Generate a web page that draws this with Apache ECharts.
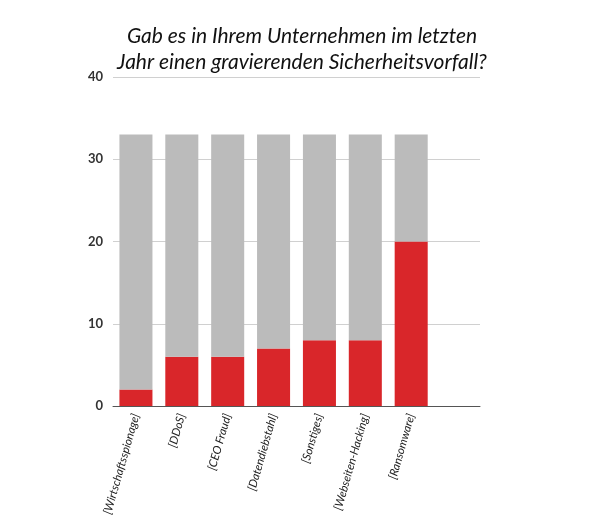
<!DOCTYPE html>
<html><head><meta charset="utf-8">
<script src="https://cdn.jsdelivr.net/npm/echarts@6/dist/echarts.min.js"></script>
<style>html,body{margin:0;padding:0;background:#fff}#c{width:600px;height:519px}</style>
</head><body><div id="c"></div>
<script>
const categories = ['[Wirtschaftsspionage]','[DDoS]','[CEO Fraud]','[Datendiebstahl]','[Sonstiges]','[Webseiten-Hacking]','[Ransomware]',''];
const redValues = [2, 6, 6, 7, 8, 8, 20, null];
const grayValues = [31, 27, 27, 26, 25, 25, 13, null];
const yTicks = [0, 10, 20, 30, 40];
const titleText = 'Gab es in Ihrem Unternehmen im letzten\nJahr einen gravierenden Sicherheitsvorfall?';

const chart = echarts.init(document.getElementById('c'));
chart.setOption({
  animation: false,
  title: {
    text: titleText, left: 297, top: 18, textAlign: 'center',
    textStyle: {fontFamily: 'Lato', fontStyle: 'italic', fontWeight: 'normal', fontSize: 21, lineHeight: 26, color: '#111'}
  },
  grid: {left: 113, right: 120, top: 77, bottom: 113},
  xAxis: {
    type: 'category', data: categories,
    axisLine: {lineStyle: {color: '#555', width: 1}},
    axisTick: {show: false},
    axisLabel: {rotate: 74, interval: 0, fontFamily: 'Lato', fontStyle: 'italic', fontSize: 11.5, color: '#222', margin: 8}
  },
  yAxis: {
    type: 'value', min: yTicks[0], max: yTicks[yTicks.length-1], interval: 10,
    axisLine: {show: false}, axisTick: {show: false},
    axisLabel: {fontFamily: 'Lato', fontSize: 13, fontWeight: 'bold', color: '#333', margin: 10},
    splitLine: {lineStyle: {color: '#d0d0d0'}}
  },
  series: [
    {type: 'bar', stack: 's', data: redValues, barCategoryGap: '28%', itemStyle: {color: '#d9262a'}},
    {type: 'bar', stack: 's', data: grayValues, itemStyle: {color: '#bbbbbb'}}
  ]
});
</script></body></html>
